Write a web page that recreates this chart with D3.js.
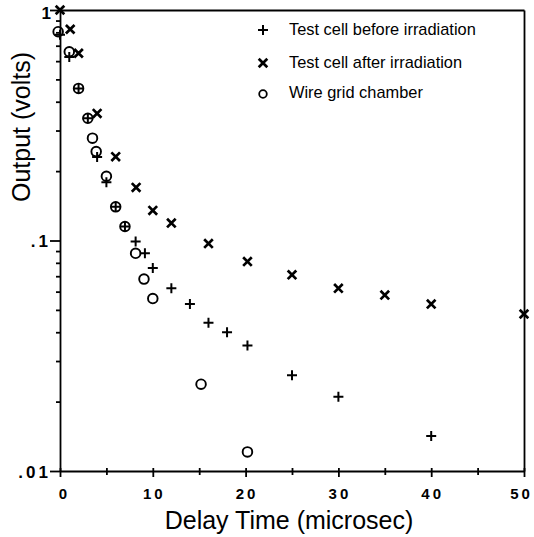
<!DOCTYPE html>
<html><head><meta charset="utf-8">
<script src="https://cdn.jsdelivr.net/npm/d3@7"></script>
<style>body{margin:0;background:#fff} svg{display:block}</style>
</head><body>
<svg id="c" width="534" height="537"></svg>
<script>
// ---- data ----
const beforeX = [0, 1, 2, 3, 4, 5, 6, 7, 8.15, 9.15, 10, 12, 14, 16, 18, 20.2, 25, 30, 40];
const beforeY = [0.78, 0.625, 0.457, 0.339, 0.230, 0.179, 0.140, 0.115, 0.099, 0.088, 0.076, 0.062, 0.053, 0.044, 0.040, 0.035, 0.026, 0.021, 0.0142];
const afterX  = [0, 1.1, 2, 4, 6, 8.2, 10, 12, 16, 20.2, 25, 30, 35, 40, 50];
const afterY  = [1.0, 0.825, 0.649, 0.356, 0.231, 0.170, 0.135, 0.119, 0.097, 0.081, 0.071, 0.062, 0.058, 0.053, 0.048];
const wireX   = [-0.2, 1, 2, 3, 3.5, 3.9, 5, 6, 7, 8.15, 9.05, 10, 15.2, 20.2];
const wireY   = [0.805, 0.659, 0.457, 0.339, 0.278, 0.243, 0.190, 0.140, 0.115, 0.088, 0.068, 0.056, 0.0238, 0.0121];
const xTicks = [0, 10, 20, 30, 40, 50];
const xMinorTicks = [5, 15, 25, 35, 45];
const yTicks = [1, 0.1, 0.01];
const yTickLabels = ["1", ".1", ".01"];
const legendLabels = ["Test cell before irradiation", "Test cell after irradiation", "Wire grid chamber"];
const xTitle = "Delay Time (microsec)";
const yTitle = "Output (volts)";

// ---- chart ----
const svg = d3.select("#c");
const x = d3.scaleLinear().domain([0, 50]).range([60, 524]);
const y = d3.scaleLog().domain([0.01, 1]).range([471, 10]);
const font = "'Liberation Sans', Arial, Helvetica, sans-serif";

const yMinor = [];
[0.01, 0.1].forEach(d => { for (let k = 2; k <= 9; k++) yMinor.push(d * k); });

// frame: top and right
svg.append("g").attr("transform", `translate(0,${y(1)})`)
  .call(d3.axisTop(x).tickValues([]).tickSizeOuter(0));
svg.append("g").attr("transform", `translate(${x(50)},0)`)
  .call(d3.axisRight(y).tickValues([]).tickSizeOuter(0));

// left axis
const gl = svg.append("g").attr("transform", `translate(${x(0)},0)`)
  .call(d3.axisLeft(y).tickValues(yTicks).tickSize(10).tickSizeOuter(0)
    .tickFormat((d, i) => yTickLabels[i]));
gl.selectAll("text").attr("font-family", font).attr("font-size", 17)
  .attr("font-weight", "bold").attr("letter-spacing", "3px").attr("fill", "#000")
  .attr("x", -9).attr("dy", "0.36em");
gl.selectAll(".tick").filter(d => d === 1).select("text").attr("x", -6).attr("dy", "0.5em");
svg.append("g").attr("transform", `translate(${x(0)},0)`)
  .call(d3.axisLeft(y).tickValues(yMinor).tickSize(4).tickFormat(""))
  .select(".domain").remove();

// bottom axis
const gb = svg.append("g").attr("transform", `translate(0,${y(0.01)})`)
  .call(d3.axisBottom(x).tickValues(xTicks).tickSize(6).tickSizeOuter(0)
    .tickFormat(d3.format("d")));
gb.selectAll("text").attr("font-family", font).attr("font-size", 15)
  .attr("font-weight", "bold").attr("letter-spacing", "3px").attr("fill", "#000")
  .attr("y", 17).attr("dx", "1px");
gb.selectAll(".tick").filter(d => d === 0).select("text").attr("dx", "4px");
gb.selectAll(".tick").filter(d => d === 50).select("text").attr("dx", "-3px");
svg.append("g").attr("transform", `translate(0,${y(0.01)})`)
  .call(d3.axisBottom(x).tickValues(xMinorTicks).tickSize(4).tickFormat(""))
  .select(".domain").remove();
svg.append("g").attr("transform", `translate(0,${y(0.01)})`)
  .call(d3.axisTop(x).tickValues(xTicks.concat(xMinorTicks)).tickSize(3).tickFormat(""))
  .select(".domain").remove();

svg.selectAll(".domain, .tick line").attr("stroke", "#000").attr("stroke-width", 1.8);

// titles
svg.append("text").attr("x", 289).attr("y", 529).attr("text-anchor", "middle")
  .attr("font-family", font).attr("font-size", 25).text(xTitle);
svg.append("text").attr("transform", "translate(30,127) rotate(-90)")
  .attr("text-anchor", "middle").attr("font-family", font).attr("font-size", 25).text(yTitle);

// markers
const plusPath = "M-5,0H5M0,-5V5";
const crossPath = "M-4.3,-4.3L4.3,4.3M-4.3,4.3L4.3,-4.3";

svg.append("g").selectAll("circle").data(d3.range(wireX.length)).join("circle")
  .attr("cx", i => x(wireX[i])).attr("cy", i => y(wireY[i])).attr("r", 4.8)
  .attr("fill", "none").attr("stroke", "#000").attr("stroke-width", 1.9);
svg.append("g").selectAll("path").data(d3.range(beforeX.length)).join("path")
  .attr("transform", i => `translate(${x(beforeX[i])},${y(beforeY[i])})`)
  .attr("d", plusPath).attr("stroke", "#000").attr("stroke-width", 2).attr("fill", "none");
svg.append("g").selectAll("path").data(d3.range(afterX.length)).join("path")
  .attr("transform", i => `translate(${x(afterX[i])},${y(afterY[i])})`)
  .attr("d", crossPath).attr("stroke", "#000").attr("stroke-width", 2.7).attr("fill", "none");

// legend
const lg = svg.append("g");
const ly = [30, 63, 94];
lg.append("path").attr("transform", `translate(263,${ly[0]})`).attr("d", plusPath)
  .attr("stroke", "#000").attr("stroke-width", 2);
lg.append("path").attr("transform", `translate(263,${ly[1]})`).attr("d", crossPath)
  .attr("stroke", "#000").attr("stroke-width", 2.7);
lg.append("circle").attr("cx", 263).attr("cy", ly[2]).attr("r", 3.8)
  .attr("fill", "none").attr("stroke", "#000").attr("stroke-width", 1.8);
lg.selectAll("text").data(legendLabels).join("text")
  .attr("x", 289).attr("y", (d, i) => [35, 68, 98][i])
  .attr("font-family", font).attr("font-size", 16.4).text(d => d);
</script>
</body></html>
